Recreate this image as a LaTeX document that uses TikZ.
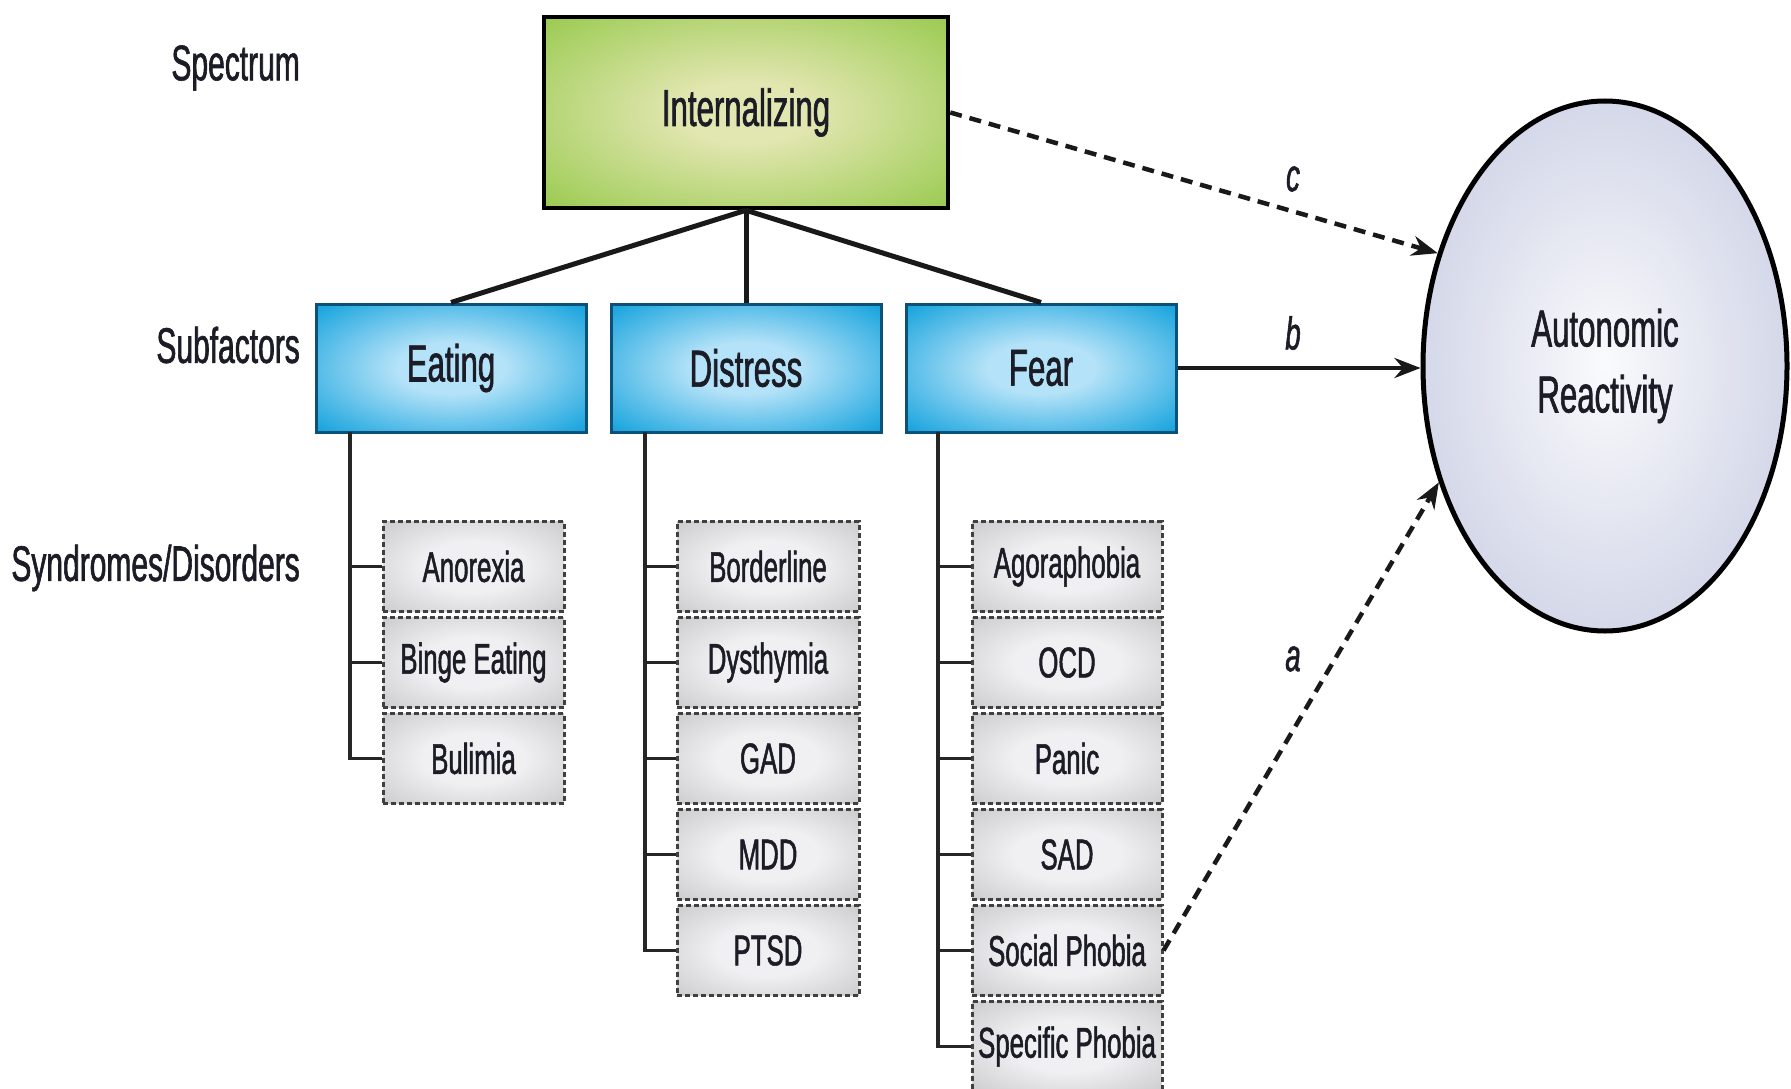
\documentclass[tikz,border=0pt]{standalone}
\usepackage{fontspec}
\setmainfont{Liberation Sans}[FakeStretch=0.6,FakeBold=1.2]
\usetikzlibrary{shapes.geometric,arrows.meta}
\definecolor{grn}{RGB}{136,196,58}
\definecolor{grnlight}{RGB}{226,230,176}
\definecolor{blu}{RGB}{14,160,220}
\definecolor{blulight}{RGB}{180,226,248}
\definecolor{bluedge}{RGB}{10,80,120}
\definecolor{gry}{RGB}{172,172,174}
\definecolor{grylight}{RGB}{240,240,242}
\definecolor{ballout}{RGB}{132,138,166}
\definecolor{ballmid}{RGB}{196,201,224}
\definecolor{txt}{RGB}{28,28,38}
\pgfdeclareradialshading{greensh}{\pgfpoint{0bp}{0bp}}{color(0bp)=(grnlight); color(8bp)=(grnlight); color(42bp)=(grn); color(80bp)=(grn)}
\pgfdeclareradialshading{bluesh}{\pgfpoint{0bp}{0bp}}{color(0bp)=(blulight); color(10bp)=(blulight); color(36bp)=(blu); color(80bp)=(blu)}
\pgfdeclareradialshading{graysh}{\pgfpoint{0bp}{0bp}}{color(0bp)=(grylight); color(14bp)=(grylight); color(55bp)=(gry); color(80bp)=(gry)}
\pgfdeclareradialshading{ballsh}{\pgfpoint{0bp}{0bp}}{color(0bp)=(white!92!ballmid); color(18bp)=(white!45!ballmid); color(36bp)=(ballmid); color(47bp)=(ballout); color(70bp)=(ballout)}
\tikzset{
  lab/.style={font=\fontsize{50}{60}\selectfont, text=txt, anchor=east, inner sep=0pt},
  specbox/.style={draw=black, line width=4.5pt, shading=greensh, minimum width=404pt, minimum height=191pt, inner sep=0pt, font=\fontsize{52}{60}\selectfont, text=txt},
  subbox/.style={draw=bluedge, line width=3pt, shading=bluesh, minimum width=270pt, minimum height=128pt, inner sep=0pt, font=\fontsize{52}{60}\selectfont, text=txt},
  synbox/.style={draw=black!75, dash pattern=on 5pt off 3pt, line width=3pt, shading=graysh, minimum height=90pt, inner sep=0pt, font=\fontsize{43}{50}\selectfont, text=txt},
  tree/.style={line width=3.5pt, draw=black!85},
  link/.style={line width=5pt, draw=black!90},
  arr/.style={line width=4.5pt, draw=black!90, -{Stealth[length=26pt,width=20pt]}},
  dsh/.style={dash pattern=on 12pt off 8pt},
  lett/.style={font=\fontsize{46}{50}\selectfont\itshape, text=txt},
}
\begin{document}
\begin{tikzpicture}[x=1pt,y=-1pt]
\useasboundingbox[fill=white] (0,0) rectangle (1791,1089);
% level labels
\node[lab] (lspec) at (300,68) {Spectrum};
\node[lab] (lsub) at (300,345) {Subfactors};
\node[lab] (lsyn) at (300,568) {Syndromes/Disorders};
% spectrum and subfactors
\node[specbox] (int) at (746,112.5) {Internalizing};
\node[subbox] (eat) at (451,368) {Eating};
\node[subbox] (dis) at (746,368) {Distress};
\node[subbox] (fear) at (1041,368) {Fear};
\draw[link] (int.south) -- (eat.north);
\draw[link] (int.south) -- (dis.north);
\draw[link] (int.south) -- (fear.north);
% outcome
\node[ellipse, draw=black, line width=5pt, shading=ballsh, minimum width=364pt, minimum height=530pt, inner sep=0pt, align=center, font=\fontsize{52}{66}\selectfont, text=txt] (ar) at (1605,366) {Autonomic\\Reactivity};
% eating column
\node[synbox, minimum width=181pt] (ano) at (473.5,566.5) {Anorexia};
\node[synbox, minimum width=181pt] (bin) at (473.5,662.5) {Binge Eating};
\node[synbox, minimum width=181pt] (bul) at (473.5,758.5) {Bulimia};
% distress column
\node[synbox, minimum width=182pt] (bor) at (768,566.5) {Borderline};
\node[synbox, minimum width=182pt] (dys) at (768,662.5) {Dysthymia};
\node[synbox, minimum width=182pt] (gad) at (768,758.5) {GAD};
\node[synbox, minimum width=182pt] (mdd) at (768,854.5) {MDD};
\node[synbox, minimum width=182pt] (pts) at (768,950.5) {PTSD};
% fear column
\node[synbox, minimum width=190pt] (ago) at (1067,566.5) {Agoraphobia};
\node[synbox, minimum width=190pt] (ocd) at (1067,662.5) {OCD};
\node[synbox, minimum width=190pt] (pan) at (1067,758.5) {Panic};
\node[synbox, minimum width=190pt] (sad) at (1067,854.5) {SAD};
\node[synbox, minimum width=190pt] (soc) at (1067,950.5) {Social Phobia};
\node[synbox, minimum width=190pt] (spe) at (1067,1046.5) {Specific Phobia};
% trees
\coordinate (te) at (350,432);
\coordinate (td) at (645,432);
\coordinate (tf) at (938,432);
\draw[tree] (te) |- (bul.west);
\foreach \n in {ano,bin} \draw[tree] (\n.west) -- (\n.west -| te);
\draw[tree] (td) |- (pts.west);
\foreach \n in {bor,dys,gad,mdd} \draw[tree] (\n.west) -- (\n.west -| td);
\draw[tree] (tf) |- (spe.west);
\foreach \n in {ago,ocd,pan,sad,soc} \draw[tree] (\n.west) -- (\n.west -| tf);
% paths
\draw[arr, dsh] (int.east) -- (ar.146);
\draw[arr] (fear.east) -- (fear.east -| ar.west);
\draw[arr, dsh] (soc.east) -- (ar.215);
\node[lett] (lc) at (1293,179) {c};
\node[lett] (lb) at (1293,333) {b};
\node[lett] (la) at (1293,659) {a};
\end{tikzpicture}
\end{document}
